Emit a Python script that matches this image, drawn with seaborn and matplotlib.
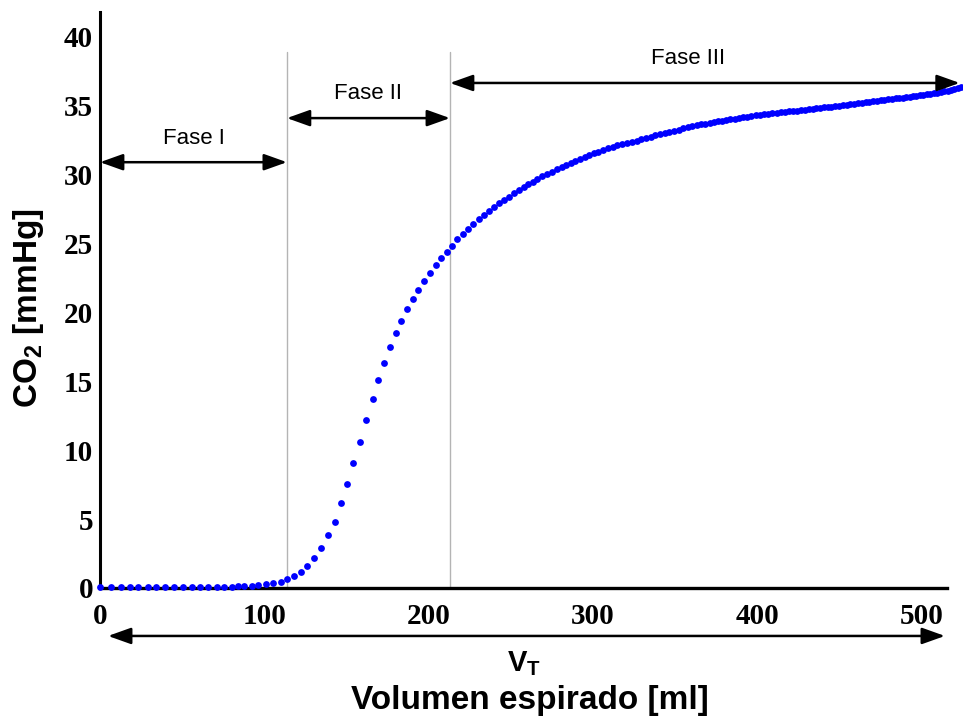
import matplotlib
matplotlib.use("Agg")
import matplotlib.pyplot as plt
import seaborn as sns
import pandas as pd

# Expired volume [ml] at each sample of the capnogram
volume_ml = [
    0, 6.7, 12.8, 18.2, 23.1, 29.2, 34.1, 39.5, 45.0, 50.5, 56.0, 60.8, 65.7,
    71.2, 75.4, 80.3, 83.9, 87.6, 92.5, 96.1, 100.9, 105.2,
    109.9, 113.6, 118.0, 122.1, 126.1, 130.4, 134.4, 138.7, 143.0, 146.4,
    150.4, 154.1, 158.2, 161.6, 165.9, 169.3, 172.7, 176.4, 179.9, 183.1,
    186.7, 190.2, 193.6, 197.3, 200.7, 204.2, 207.6, 211.1, 214.1, 217.3,
    220.6, 224.0, 227.1, 230.5, 233.6, 236.6, 239.7, 242.7, 245.7, 248.8,
    251.8, 255.0, 257.9, 260.5, 263.2, 266.0, 269.0, 271.7, 274.8, 277.8,
    280.8, 283.5, 286.3, 288.9, 292.0, 295.0, 297.6, 300.5, 303.1, 306.1,
    308.8, 311.9, 314.7, 317.3, 320.4, 323.4, 326.5,
    329.3, 332.2, 335.0, 337.9, 340.7, 343.6, 346.4, 349.2, 352.0, 354.8,
    357.6, 360.4, 363.1, 365.7, 368.2, 370.8, 373.3, 375.9, 378.4, 381.0,
    383.5, 386.1, 388.6, 391.2, 393.7, 396.3, 398.8, 401.4, 403.9, 406.5,
    409.0, 411.6, 414.1, 416.7, 419.2, 421.8, 424.3, 426.6, 428.9, 431.2,
    433.5, 435.8, 438.1, 440.4, 442.7, 445.0, 447.3, 449.6, 451.9, 454.2,
    456.5, 458.8, 461.1, 463.4, 465.7, 468.0, 470.3, 472.6, 474.9, 477.2,
    479.5, 481.8, 484.1, 486.2, 488.3, 490.4, 492.5, 494.6, 496.7, 498.8,
    500.9, 503.0, 505.1, 507.2, 509.3, 511.4, 513.5, 515.6, 517.7, 519.8,
    521.9, 524.0,
]

# CO2 partial pressure [mmHg] at each sample
co2_mmhg = [
    0.05, 0.05, 0.05, 0.05, 0.05, 0.05, 0.05, 0.05, 0.05, 0.05, 0.05, 0.05, 0.05,
    0.05, 0.06, 0.09, 0.12, 0.15, 0.18, 0.22, 0.27, 0.34,
    0.46, 0.63, 0.87, 1.18, 1.60, 2.16, 2.92, 3.85, 4.81, 6.15,
    7.55, 9.05, 10.62, 12.19, 13.69, 15.06, 16.33, 17.51, 18.48, 19.40,
    20.22, 20.97, 21.63, 22.30, 22.88, 23.46, 23.95, 24.38, 24.84, 25.30,
    25.69, 26.07, 26.41, 26.78, 27.05, 27.38, 27.63, 27.92, 28.13, 28.37,
    28.64, 28.90, 29.12, 29.30, 29.46, 29.66, 29.90, 30.04, 30.21, 30.41,
    30.55, 30.67, 30.86, 31.01, 31.13, 31.30, 31.42, 31.55, 31.66, 31.79,
    31.91, 32.02, 32.15, 32.22, 32.31, 32.39, 32.46,
    32.56, 32.66, 32.75, 32.85, 32.94, 33.03, 33.11, 33.19, 33.27, 33.35,
    33.43, 33.51, 33.58, 33.64, 33.69, 33.75, 33.80, 33.86, 33.91, 33.96,
    34.01, 34.06, 34.11, 34.16, 34.20, 34.25, 34.29, 34.34, 34.38, 34.42,
    34.46, 34.49, 34.52, 34.56, 34.59, 34.62, 34.65, 34.68, 34.71, 34.75,
    34.78, 34.81, 34.85, 34.88, 34.91, 34.94, 34.98, 35.01, 35.04, 35.08,
    35.11, 35.14, 35.18, 35.21, 35.25, 35.28, 35.32, 35.35, 35.39, 35.42,
    35.46, 35.49, 35.53, 35.56, 35.59, 35.63, 35.66, 35.69, 35.73, 35.76,
    35.79, 35.83, 35.86, 35.90, 35.94, 35.99, 36.04, 36.10, 36.16, 36.23,
    36.30, 36.37,
]

x_ticks = [0, 100, 200, 300, 400, 500]
y_ticks = [0, 5, 10, 15, 20, 25, 30, 35, 40]

# Phase boundaries [ml] and the level [mmHg] of each phase arrow
phase_names = ["Fase I", "Fase II", "Fase III"]
phase_start = [0, 113.7, 212.9]
phase_end = [113.7, 212.9, 523.0]
phase_level = [30.9, 34.1, 36.65]
boundary_x = [113.7, 212.9]

sns.set_theme(style="white")
plt.rcParams["font.family"] = ["Liberation Sans", "DejaVu Sans"]
plt.rcParams["mathtext.fontset"] = "custom"
plt.rcParams["mathtext.rm"] = "Liberation Sans"
plt.rcParams["mathtext.bf"] = "Liberation Sans:bold"

df = pd.DataFrame({"volume": volume_ml, "co2": co2_mmhg})

fig = plt.figure(figsize=(9.63, 7.21), dpi=100)
ax = fig.add_axes([100 / 963, 133 / 721, 863 / 963, 576 / 721])

# phase boundaries
for bx in boundary_x:
    ax.plot([bx, bx], [0, 38.9], color="#b4b4b4", lw=1.0, zorder=1)

sns.scatterplot(data=df, x="volume", y="co2", color="#0000ff", s=24,
                linewidth=0, ax=ax, zorder=3, clip_on=False)

ax.set_xlim(0, 525)
ax.set_ylim(0, 41.8)
ax.set_xticks(x_ticks)
ax.set_yticks(y_ticks)
tick_font = dict(family="Liberation Serif", weight="bold", size=21)
ax.set_xticklabels([str(v) for v in x_ticks], fontdict=tick_font)
ax.set_yticklabels([str(v) for v in y_ticks], fontdict=tick_font)
ax.tick_params(axis="both", length=0, colors="black")
ax.tick_params(axis="x", pad=11)
ax.tick_params(axis="y", pad=5)
ax.set_xlabel("")
ax.set_ylabel("")

for side in ("top", "right"):
    ax.spines[side].set_visible(False)
ax.spines["left"].set_linewidth(2.2)
ax.spines["bottom"].set_linewidth(2.4)
ax.spines["left"].set_color("black")
ax.spines["bottom"].set_color("black")
ax.spines["bottom"].set_bounds(0, 515.2)

# phase arrows and names
for name, x0, x1, lvl in zip(phase_names, phase_start, phase_end, phase_level):
    ax.annotate("", xy=(x1, lvl), xytext=(x0, lvl),
                arrowprops=dict(arrowstyle="<|-|>,head_length=0.7,head_width=0.25",
                                color="black", lw=1.8, shrinkA=0, shrinkB=0,
                                mutation_scale=20),
                annotation_clip=False, zorder=4)
    ax.text((x0 + x1) / 2 if name != "Fase III" else 358, lvl + 1.75, name,
            ha="center", va="center", fontsize=16, color="black")

# tidal volume arrow below the axis
ax.annotate("", xy=(514, -3.48), xytext=(4.9, -3.48),
            arrowprops=dict(arrowstyle="<|-|>,head_length=0.7,head_width=0.25",
                            color="black", lw=1.8, shrinkA=0, shrinkB=0,
                            mutation_scale=20),
            annotation_clip=False)
fig.text(524 / 963, 1 - 664 / 721, r"$\mathbf{V}_\mathbf{T}$", ha="center",
         va="center", fontsize=21, color="black")

fig.text(530 / 963, 1 - 700 / 721, "Volumen espirado [ml]", ha="center",
         va="center", fontsize=24, fontweight="bold", color="black")
fig.text(28 / 963, 1 - 308 / 721, r"CO$_\mathbf{2}$ [mmHg]", ha="center",
         va="center", rotation=90, fontsize=24, fontweight="bold", color="black")

fig.savefig("out.png", dpi=100)
